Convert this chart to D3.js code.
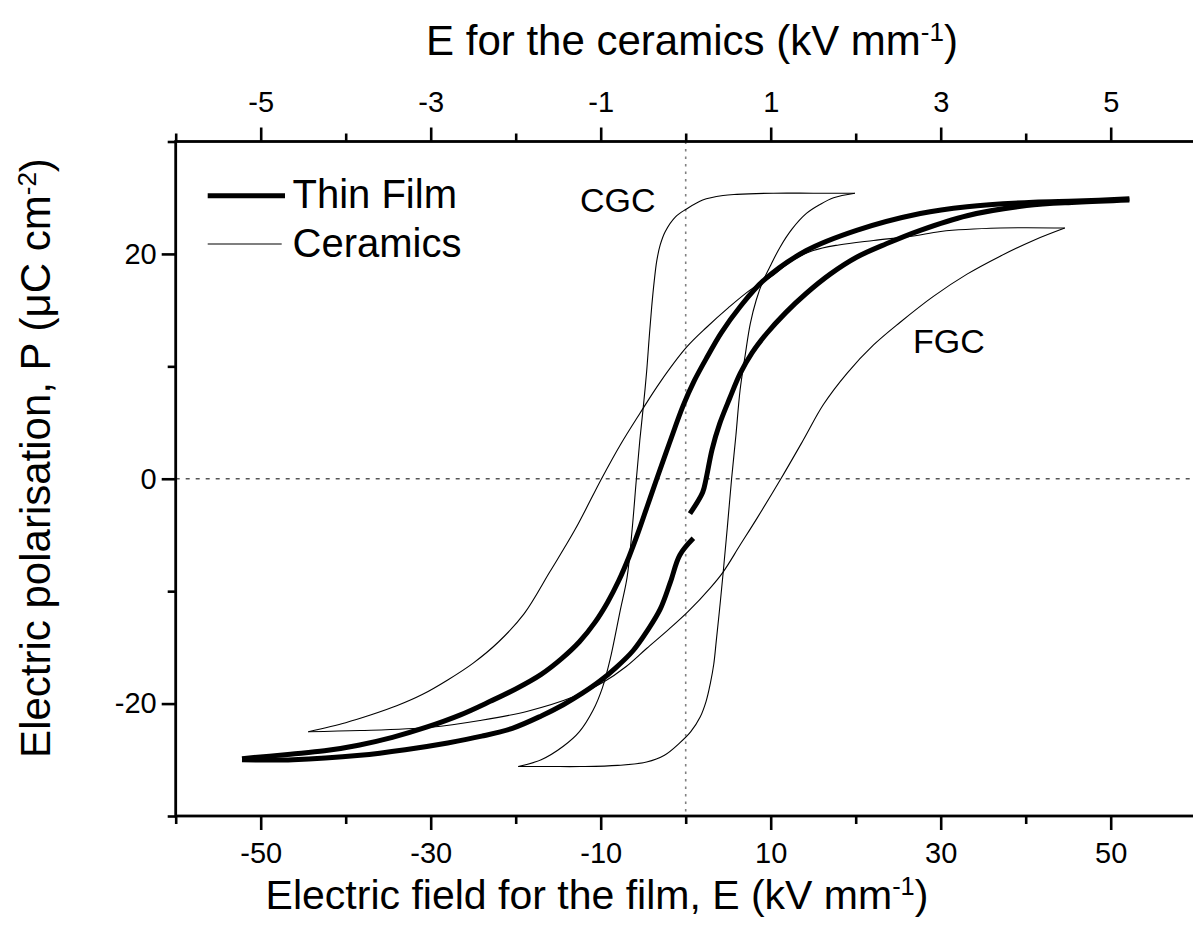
<!DOCTYPE html>
<html><head><meta charset="utf-8">
<script src="https://cdn.jsdelivr.net/npm/d3@7"></script>
<style>
html,body{margin:0;padding:0;background:#fff;}
svg{display:block;font-family:"Liberation Sans",Arial,sans-serif;}
</style></head>
<body>
<svg id="chart" width="1193" height="943"></svg>
<script>
// ---- data (film field units on x, polarisation on y) ----
const filmXTicksMajor = [-50,-30,-10,10,30,50];
const filmXTicksMinor = [-60,-40,-20,0,20,40,60];
const ceramXTicksMajor = [-5,-3,-1,1,3,5];
const ceramXTicksMinor = [-6,-4,-2,0,2,4,6];
const pTicksMajor = [-20,0,20];
const pTicksMinor = [-30,-10,10,30];

const filmDown = [[52.2,24.9],[46,24.7],[40.9,24.6],[33.1,24.2],[27.6,23.6],[20.1,22.1],[14.2,20.3],[9.1,17.6],[6.4,15.3],[4.2,13.0],[2.5,10.8],[1.0,8.7],[-0.3,6.5],[-1.9,3.2],[-3.4,0],[-4.5,-2.4],[-5.6,-4.8],[-6.7,-7.0],[-7.9,-9.1],[-9.2,-11.0],[-10.7,-12.8],[-12.5,-14.5],[-14.6,-16.0],[-17,-17.4],[-20,-18.7],[-23,-19.8],[-26.5,-21.0],[-30.5,-22.1],[-34.5,-23.0],[-38.5,-23.7],[-42.5,-24.2],[-46.5,-24.5],[-52.2,-24.9]];
const filmUpA = [[-52.2,-25.0],[-46.2,-25.0],[-38.3,-24.6],[-33.0,-24.1],[-28.0,-23.5],[-24.0,-22.9],[-20.4,-22.2],[-17.0,-21.1],[-14.4,-20.1],[-12.2,-19.1],[-10.1,-18.0],[-8.2,-16.8],[-6.2,-15.3],[-4.5,-13.5],[-3.0,-11.6],[-1.8,-9.2],[-0.7,-6.8],[0.9,-5.3]];
const filmUpB = [[0.5,-3.1],[2.0,-1.2],[2.4,0],[3.1,2.6],[4.0,4.9],[5.2,7.2],[6.4,9.35],[7.8,11.2],[9.5,12.9],[11.8,14.8],[14.2,16.5],[17.0,18.2],[20.1,19.7],[23.6,20.9],[27.6,22.1],[33.1,23.4],[40.1,24.3],[46.0,24.6],[52.2,24.8]];

const fgcDown = [[44.6,22.3],[37,22.3],[30,22.0],[26.8,21.6],[22.1,21.2],[18,20.8],[15,20.3],[12.5,19.4],[10.3,18.1],[7.6,16.8],[5,15.2],[2.5,13.5],[0.1,11.7],[-3.0,8.6],[-5.4,5.8],[-7.7,3.0],[-9.9,0],[-13,-4.5],[-16,-8.3],[-19,-12.0],[-22,-14.5],[-25,-16.4],[-28,-17.9],[-31,-19.2],[-34,-20.2],[-37,-21.0],[-40,-21.7],[-44.4,-22.5]];
const fgcUp = [[-44.4,-22.5],[-38.3,-22.4],[-30,-22.1],[-24.2,-21.5],[-18.7,-20.7],[-13.2,-19.4],[-9.7,-18.1],[-7,-16.7],[-4.6,-15.1],[-2,-13.4],[0.3,-11.8],[2.9,-9.7],[4.4,-8.3],[6.4,-5.9],[8.4,-3.5],[11.2,0],[13.8,3.4],[16.2,6.6],[19,9.4],[22.1,11.9],[25.2,13.9],[29.1,16.2],[33.1,18.2],[37,19.8],[40.9,21.2],[44.6,22.3]];

const cgcDown = [[19.9,25.4],[15,25.4],[10.3,25.4],[6,25.3],[4.4,25.2],[2,24.8],[0.1,24.0],[-1.2,23.3],[-2.4,22.0],[-3.0,20.8],[-3.4,19.4],[-3.7,17.6],[-4.0,15.3],[-4.3,12.5],[-4.6,9.5],[-5.0,6.3],[-5.4,3.4],[-5.8,0],[-6.3,-4.5],[-6.9,-8.8],[-7.7,-11.7],[-8.9,-16.1],[-9.8,-18.6],[-10.9,-20.6],[-12.5,-22.5],[-14.4,-23.8],[-17,-25.0],[-19.7,-25.6]];
const cgcUp = [[-19.7,-25.6],[-16,-25.6],[-12.4,-25.6],[-8,-25.5],[-4.6,-25.2],[-2.5,-24.6],[-0.7,-23.5],[0.6,-22.5],[1.7,-21.2],[2.4,-19.8],[2.9,-18.2],[3.3,-16.5],[3.6,-14.4],[4.0,-11.5],[4.4,-8.4],[4.9,-4.3],[5.4,0],[5.9,3.8],[6.4,7.9],[7.0,11.0],[7.6,13.8],[8.3,15.9],[9.1,17.6],[10.0,19.0],[11.1,20.6],[12.5,22.2],[14.2,23.6],[15.8,24.4],[17.4,25.0],[19.9,25.4]];

const legendItems = [{label:"Thin Film", w:5}, {label:"Ceramics", w:1.1}];

// ---- layout ----
const svg = d3.select("#chart");
const L = 175.7, R = 1195.7, T = 141.5, B = 816;
const x = d3.scaleLinear().domain([-60,60]).range([L,R]);
const xc = d3.scaleLinear().domain([-6,6]).range([L,R]);
const y = d3.scaleLinear().domain([-30,30]).range([B,T]);

// reference lines
svg.append("line").attr("x1",x(0)).attr("x2",x(0)).attr("y1",T).attr("y2",B)
  .attr("stroke","#808080").attr("stroke-width",1.6).attr("stroke-dasharray","2.5,5");
svg.append("line").attr("x1",L).attr("x2",R).attr("y1",y(0)).attr("y2",y(0))
  .attr("stroke","#555").attr("stroke-width",1.3).attr("stroke-dasharray","4,6");

const line = d3.line().x(d=>x(d[0])).y(d=>y(d[1])).curve(d3.curveCatmullRom.alpha(0.5));
const g = svg.append("g").attr("fill","none").attr("stroke","#000").attr("stroke-linejoin","round");
[fgcDown, fgcUp, cgcDown, cgcUp].forEach(s=>g.append("path").attr("d",line(s)).attr("stroke-width",1.1));
[filmDown, filmUpA, filmUpB].forEach(s=>g.append("path").attr("d",line(s)).attr("stroke-width",5).attr("stroke-linecap","butt"));

// axes
const fmt = d => String(d);
function styleAxis(sel){
  sel.select(".domain").remove();
  sel.selectAll(".tick line").attr("stroke","#000").attr("stroke-width",2.6);
  sel.selectAll(".tick text").attr("fill","#000").style("font-size","29px").style("font-family","'Liberation Sans',Arial,sans-serif");
}
svg.append("g").attr("transform",`translate(0,${B})`).call(d3.axisBottom(x).tickValues(filmXTicksMajor).tickSize(14).tickPadding(12).tickFormat(fmt)).call(styleAxis);
svg.append("g").attr("transform",`translate(0,${B})`).call(d3.axisBottom(x).tickValues(filmXTicksMinor).tickSize(8).tickFormat("")).call(styleAxis);
svg.append("g").attr("transform",`translate(0,${T})`).call(d3.axisTop(xc).tickValues(ceramXTicksMajor).tickSize(14).tickPadding(16).tickFormat(fmt)).call(styleAxis);
svg.append("g").attr("transform",`translate(0,${T})`).call(d3.axisTop(xc).tickValues(ceramXTicksMinor).tickSize(8).tickFormat("")).call(styleAxis);
svg.append("g").attr("transform",`translate(${L},0)`).call(d3.axisLeft(y).tickValues(pTicksMajor).tickSize(14).tickPadding(5).tickFormat(fmt)).call(styleAxis);
svg.append("g").attr("transform",`translate(${L},0)`).call(d3.axisLeft(y).tickValues(pTicksMinor).tickSize(8).tickFormat("")).call(styleAxis);
svg.append("g").attr("transform",`translate(${R},0)`).call(d3.axisRight(y).tickValues(pTicksMajor).tickSize(14).tickFormat("")).call(styleAxis);

// frame
svg.append("rect").attr("x",L).attr("y",T).attr("width",R-L).attr("height",B-T)
  .attr("fill","none").attr("stroke","#000").attr("stroke-width",2.8);

// titles
function titleWithSup(parent, parts){
  parts.forEach(p=>{
    const t = parent.append("tspan").text(p.t);
    if(p.sup){ t.attr("font-size","0.62em").attr("dy","-0.55em"); }
    else if(p.after){ t.attr("dy","0.34em"); }
  });
}
const tb = svg.append("text").attr("x",597).attr("y",909).attr("text-anchor","middle").style("font-size","41px");
titleWithSup(tb,[{t:"Electric field for the film, E (kV mm"},{t:"-1",sup:true},{t:")",after:true}]);
const tt = svg.append("text").attr("x",692).attr("y",55).attr("text-anchor","middle").style("font-size","42px");
titleWithSup(tt,[{t:"E for the ceramics (kV mm"},{t:"-1",sup:true},{t:")",after:true}]);
const ty = svg.append("text").attr("transform","translate(50,458) rotate(-90)").attr("text-anchor","middle").style("font-size","42px");
titleWithSup(ty,[{t:"Electric polarisation, P (\u03BCC cm"},{t:"-2",sup:true},{t:")",after:true}]);

// annotations
svg.append("text").attr("x",580).attr("y",211.7).style("font-size","34px").text("CGC");
svg.append("text").attr("x",913).attr("y",353.3).style("font-size","34px").text("FGC");

// legend
const lg = svg.append("g");
legendItems.forEach((it,i)=>{
  const yy = i===0 ? 195.7 : 244;
  lg.append("line").attr("x1",207.7).attr("x2",i===0?285:281.7).attr("y1",yy).attr("y2",yy)
    .attr("stroke","#000").attr("stroke-width",it.w);
  lg.append("text").attr("x",292.5).attr("y",yy+12.5).style("font-size","40px").text(it.label);
});
</script>
</body></html>
